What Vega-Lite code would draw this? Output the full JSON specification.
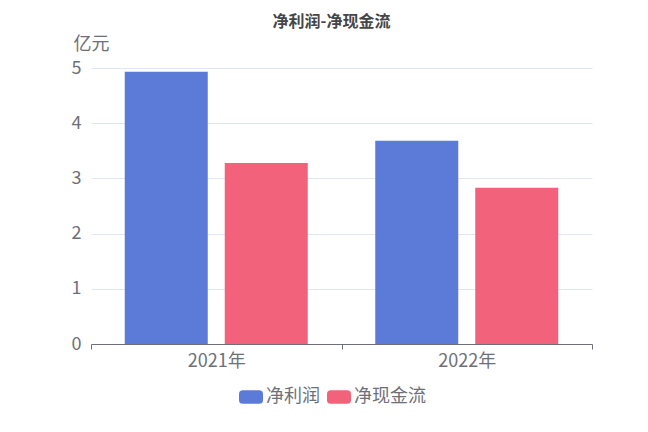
{
  "$schema": "https://vega.github.io/schema/vega-lite/v6.json",
  "autosize": {"type": "none"},
  "width": 501,
  "height": 276,
  "padding": {"left": 91, "top": 68, "right": 56, "bottom": 88},
  "background": "#ffffff",
  "title": {
    "text": "净利润-净现金流",
    "frame": "group",
    "anchor": "middle",
    "dx": -10,
    "offset": 5,
    "fontSize": 16,
    "fontWeight": "bold",
    "color": "#464646",
    "font": "Noto Sans CJK SC"
  },
  "config": {
    "font": "Noto Sans CJK SC",
    "view": {"stroke": null}
  },
  "data": {
    "values": [
      {"year": "2021年", "series": "净利润", "value": 4.93},
      {"year": "2021年", "series": "净现金流", "value": 3.28},
      {"year": "2022年", "series": "净利润", "value": 3.68},
      {"year": "2022年", "series": "净现金流", "value": 2.83}
    ]
  },
  "mark": {"type": "bar"},
  "encoding": {
    "x": {
      "field": "year",
      "type": "nominal",
      "scale": {"paddingInner": 0, "paddingOuter": 0},
      "axis": {
        "title": null,
        "labelAngle": 0,
        "tickBand": "extent",
        "labelFontSize": 18,
        "labelColor": "#6E7079",
        "labelPadding": 3,
        "domainColor": "#6E7079",
        "tickColor": "#6E7079",
        "tickSize": 5,
        "grid": false
      }
    },
    "xOffset": {
      "field": "series",
      "type": "nominal",
      "sort": ["净利润", "净现金流"],
      "scale": {"paddingInner": 0.17, "paddingOuter": 0.3375}
    },
    "y": {
      "field": "value",
      "type": "quantitative",
      "scale": {"domain": [0, 5], "nice": false},
      "axis": {
        "title": "亿元",
        "titleAngle": 0,
        "titleX": 0,
        "titleY": -24,
        "titleAlign": "center",
        "titleBaseline": "middle",
        "titleFontSize": 18,
        "titleFontWeight": "normal",
        "titleColor": "#6E7079",
        "values": [0, 1, 2, 3, 4, 5],
        "labelOverlap": false,
        "domain": false,
        "ticks": false,
        "labelFontSize": 18,
        "labelColor": "#6E7079",
        "labelPadding": 10,
        "gridColor": "#E0E6F1"
      }
    },
    "color": {
      "field": "series",
      "type": "nominal",
      "sort": ["净利润", "净现金流"],
      "scale": {"domain": ["净利润", "净现金流"], "range": ["#5C7BD9", "#F2627B"]},
      "legend": {
        "title": null,
        "orient": "none",
        "direction": "horizontal",
        "legendX": 148,
        "legendY": 317,
        "symbolType": "M-0.68,-0.56 L0.68,-0.56 Q1,-0.56 1,-0.24 L1,0.24 Q1,0.56 0.68,0.56 L-0.68,0.56 Q-1,0.56 -1,0.24 L-1,-0.24 Q-1,-0.56 -0.68,-0.56 Z",
        "symbolSize": 576,
        "symbolStrokeWidth": 0,
        "symbolOpacity": 1,
        "labelFontSize": 18,
        "labelColor": "#6E7079",
        "labelOffset": 3,
        "columnPadding": 7
      }
    }
  }
}
